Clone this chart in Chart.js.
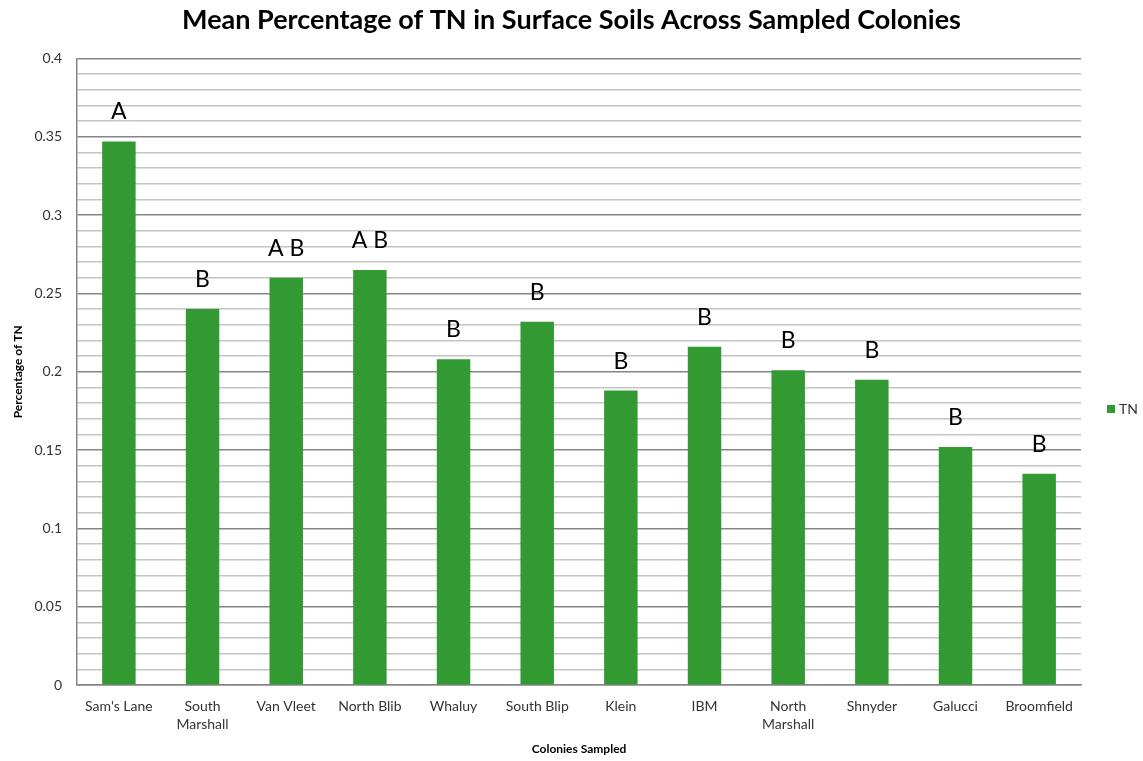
<!DOCTYPE html>
<html>
<head>
<meta charset="utf-8">
<script src="https://cdn.jsdelivr.net/npm/chart.js@4"></script>
<style>
  body { margin: 0; background: #fff; }
  #wrap { width: 1143px; height: 761px; }
</style>
</head>
<body>
<div id="wrap"><canvas id="tnChart"></canvas></div>
<script>
const colonies = ["Sam's Lane", ['South', 'Marshall'], 'Van Vleet', 'North Blib', 'Whaluy', 'South Blip',
    'Klein', 'IBM', ['North', 'Marshall'], 'Shnyder', 'Galucci', 'Broomfield'];
const tnValues = [0.347, 0.240, 0.260, 0.265, 0.208, 0.232, 0.188, 0.216, 0.201, 0.195, 0.152, 0.135];
const groupLetters = ['A', 'B', 'A B', 'A B', 'B', 'B', 'B', 'B', 'B', 'B', 'B', 'B'];

const fontFam = 'Lato, "Open Sans", sans-serif';
const barColor = '#339933';

// letters above each bar + the little legend on the right
const letterPlugin = {
    id: 'letters',
    afterDatasetsDraw(chart) {
        const c = chart.ctx;
        const meta = chart.getDatasetMeta(0);
        c.save();
        c.font = '23px ' + fontFam;
        c.fillStyle = '#000';
        c.textAlign = 'center';
        c.textBaseline = 'alphabetic';
        meta.data.forEach((bar, i) => {
            c.fillText(groupLetters[i], bar.x, bar.y - 22);
        });

        // legend
        const lx = chart.chartArea.right + 26;
        const ly = 409;
        c.fillStyle = barColor;
        c.fillRect(lx, ly - 4, 8, 8);
        c.fillStyle = '#333';
        c.font = '14px ' + fontFam;
        c.textAlign = 'left';
        c.textBaseline = 'middle';
        c.fillText(chart.data.datasets[0].label, lx + 12, ly);
        c.restore();
    }
};

const ctx = document.getElementById('tnChart').getContext('2d');
new Chart(ctx, {
    type: 'bar',
    data: {
        labels: colonies,
        datasets: [{
            label: 'TN',
            data: tnValues,
            backgroundColor: barColor,
            borderWidth: 0,
            barPercentage: 0.4,
            categoryPercentage: 1.0
        }]
    },
    options: {
        responsive: true,
        maintainAspectRatio: false,
        animation: false,
        layout: { padding: { left: 1, right: 1, top: 1, bottom: 1 } },
        plugins: {
            title: {
                display: true,
                text: 'Mean Percentage of TN in Surface Soils Across Sampled Colonies',
                font: { family: fontFam, size: 27, weight: 'bold' },
                color: '#000',
                padding: { top: 3, bottom: 22 }
            },
            legend: { display: false },
            tooltip: { enabled: false }
        },
        scales: {
            x: {
                grid: { display: false, drawTicks: false },
                border: { color: '#868686', width: 1.5 },
                ticks: {
                    font: { family: fontFam, size: 14, lineHeight: 1.3 },
                    color: '#333',
                    maxRotation: 0,
                    autoSkip: false,
                    padding: 12
                },
                title: {
                    display: true,
                    text: 'Colonies Sampled',
                    font: { family: fontFam, size: 12, weight: 'bold' },
                    color: '#000',
                    padding: { top: -4, bottom: 4 }
                }
            },
            y: {
                min: 0,
                max: 0.4,
                grid: {
                    drawTicks: false,
                    lineWidth: 1.5,
                    color: (c) => (Math.round(c.tick.value * 100) % 5 === 0) ? '#868686' : '#c4c4c4'
                },
                border: { color: '#868686', width: 1.5 },
                ticks: {
                    stepSize: 0.01,
                    autoSkip: false,
                    font: { family: fontFam, size: 14 },
                    color: '#333',
                    padding: 15,
                    callback: (v) => (Math.round(v * 100) % 5 === 0) ? String(parseFloat(v.toFixed(2))) : ''
                },
                title: {
                    display: true,
                    text: 'Percentage of TN',
                    font: { family: fontFam, size: 12, weight: 'bold' },
                    color: '#000',
                    padding: { top: 10, bottom: -6 }
                }
            },
            // empty right-hand axis that only reserves room for the legend
            legendSpace: {
                type: 'linear',
                position: 'right',
                display: true,
                grid: { display: false, drawTicks: false },
                border: { display: false },
                ticks: { display: false },
                afterFit: (s) => { s.width = 61; }
            }
        }
    },
    plugins: [letterPlugin]
});
</script>
</body>
</html>
